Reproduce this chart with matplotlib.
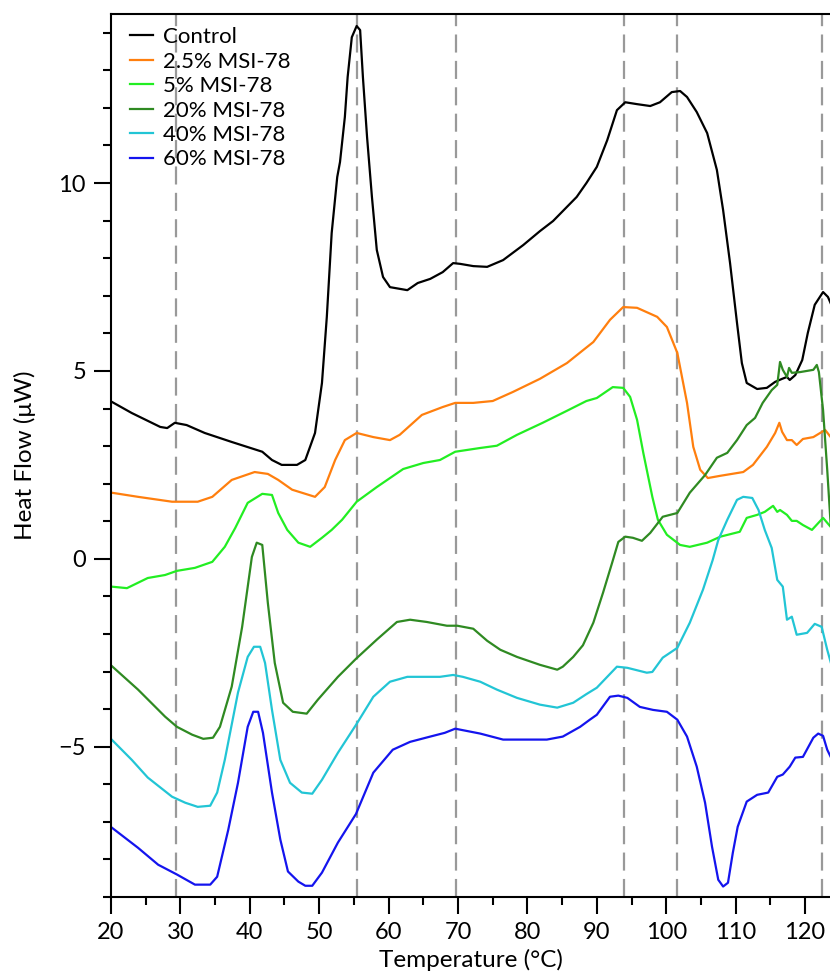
import matplotlib as mpl
mpl.use('Agg')
from matplotlib import pyplot as plt
from matplotlib.ticker import MultipleLocator

plt.rcParams['font.family'] = ['Lato', 'DejaVu Sans']
plt.rcParams['lines.scale_dashes'] = False

# series labels and colours
labels = ['Control', '2.5% MSI-78', '5% MSI-78', '20% MSI-78', '40% MSI-78', '60% MSI-78']
colors = ['#000000', '#ff7f0e', '#22ee22', '#2f8a22', '#22c5d5', '#1414ee']

# transition temperatures (dashed lines)
marks = [29.4, 55.45, 69.7, 93.9, 101.55, 122.45]

# Control
t_ctrl = [20.1, 23.0, 27.1, 28.1, 29.2, 30.9, 33.5, 37.4, 41.8, 43.2, 44.6, 46.8, 48.0, 49.4, 50.4,
          51.1, 51.8, 52.6, 53.0, 53.7, 54.1, 54.7, 55.4, 55.9, 56.3, 56.9, 57.6, 58.3, 59.2, 60.2,
          62.7, 64.2, 66.0, 67.8, 69.3, 70.3, 72.2, 74.2, 76.5, 79.4, 81.8, 83.7, 87.1, 88.5, 90.0,
          91.5, 92.9, 94.1, 95.8, 97.7, 99.1, 100.8, 102.0, 103.0, 104.4, 105.9, 107.3, 108.2, 109.2,
          110.2, 110.9, 111.6, 113.1, 114.5, 115.7, 116.7, 117.4, 117.8, 118.6, 119.6, 120.4, 121.4,
          122.6, 123.3, 123.7]
q_ctrl = [4.18, 3.88, 3.51, 3.48, 3.62, 3.56, 3.35, 3.11, 2.85, 2.63, 2.50, 2.50, 2.63, 3.35, 4.68,
          6.44, 8.67, 10.16, 10.56, 11.76, 12.82, 13.88, 14.18, 14.07, 12.82, 11.22, 9.63, 8.22, 7.50, 7.23,
          7.15, 7.34, 7.45, 7.63, 7.87, 7.85, 7.79, 7.77, 7.95, 8.35, 8.72, 8.99, 9.63, 10.0, 10.43,
          11.14, 11.94, 12.15, 12.10, 12.05, 12.15, 12.42, 12.45, 12.29, 11.89, 11.33, 10.35, 9.28, 7.87,
          6.28, 5.21, 4.68, 4.52, 4.55, 4.71, 4.79, 4.84, 4.76, 4.89, 5.29, 6.01, 6.76,
          7.10, 6.97, 6.80]

# 2.5% MSI-78
t_25 = [20.1, 23.9, 28.8, 32.5, 34.6, 37.4, 40.7, 42.6, 44.1, 46.1, 49.4, 50.8, 52.3, 53.7, 55.4,
        57.8, 60.2, 61.6, 64.8, 67.8, 69.6, 72.2, 75.0, 77.9, 81.8, 85.7, 88.0, 89.5, 91.9, 93.8,
        95.8, 98.7, 100.1, 101.6, 103.0, 103.9, 104.9, 106.0, 107.8, 111.1, 112.5, 114.5, 115.7,
        116.3, 116.7, 117.4, 118.1, 118.8, 119.7, 121.2, 122.9, 123.7]
q_25 = [1.76, 1.65, 1.52, 1.52, 1.65, 2.10, 2.31, 2.26, 2.10, 1.84, 1.65, 1.91, 2.63, 3.16, 3.35,
        3.24, 3.16, 3.30, 3.83, 4.04, 4.15, 4.15, 4.20, 4.44, 4.79, 5.21, 5.55, 5.77, 6.36, 6.70,
        6.68, 6.44, 6.17, 5.48, 4.15, 2.98, 2.37, 2.15, 2.21, 2.31, 2.50, 2.98, 3.35,
        3.62, 3.38, 3.16, 3.16, 3.03, 3.19, 3.24, 3.43, 3.24]

# 5% MSI-78
t_5 = [20.1, 22.3, 25.3, 27.8, 29.5, 32.1, 34.6, 36.4, 37.9, 39.7, 41.8, 43.2, 44.1, 45.4, 47.0,
       48.7, 50.4, 51.8, 53.3, 55.4, 58.3, 62.1, 65.0, 67.4, 69.6, 73.2, 75.6, 78.5, 82.2, 85.7,
       88.5, 90.0, 92.3, 93.8, 94.8, 95.8, 96.7, 98.0, 98.8, 100.1, 102.0, 103.4, 105.9, 107.8,
       110.6, 111.6, 113.1, 114.2, 115.4, 116.0, 116.4, 117.4, 118.1, 118.8, 119.7, 121.0, 122.6, 123.7]
q_5 = [-0.74, -0.78, -0.51, -0.43, -0.32, -0.24, -0.08, 0.32, 0.82, 1.49, 1.73, 1.70, 1.22, 0.77, 0.43,
       0.32, 0.56, 0.77, 1.04, 1.52, 1.91, 2.39, 2.55, 2.63, 2.85, 2.95, 3.01, 3.30, 3.62, 3.94,
       4.20, 4.28, 4.57, 4.55, 4.31, 3.70, 2.82, 1.65, 1.04, 0.64, 0.37, 0.32, 0.43, 0.59,
       0.72, 1.09, 1.17, 1.25, 1.41, 1.25, 1.30, 1.17, 1.01, 1.01, 0.90, 0.77, 1.09, 0.85]

# 20% MSI-78
t_20 = [20.1, 23.9, 27.8, 29.5, 31.7, 33.3, 34.7, 35.7, 37.4, 38.9, 40.3, 41.0, 41.8, 42.6, 43.6,
        44.8, 46.2, 48.2, 49.8, 52.7, 55.3, 58.3, 61.2, 63.1, 65.5, 68.4, 69.9, 72.2, 74.2, 76.1,
        78.5, 81.8, 84.3, 85.1, 86.6, 88.0, 89.5, 90.9, 92.2, 93.1, 94.1, 95.2, 96.5, 97.7, 99.5,
        101.6, 103.4, 105.6, 107.3, 108.8, 110.2, 111.6, 112.8, 113.9, 115.2, 116.0, 116.4, 116.8,
        117.4, 117.7, 118.1, 119.3, 121.2, 121.7, 122.0, 122.6, 123.2, 123.7]
q_20 = [-2.85, -3.48, -4.20, -4.47, -4.68, -4.79, -4.76, -4.47, -3.40, -1.81, 0.05, 0.43, 0.37, -1.17, -2.77,
        -3.83, -4.07, -4.12, -3.75, -3.14, -2.66, -2.15, -1.68, -1.62, -1.68, -1.78, -1.78, -1.86, -2.18, -2.42,
        -2.61, -2.82, -2.95, -2.87, -2.61, -2.30, -1.70, -0.90, -0.11, 0.45, 0.59, 0.56, 0.48, 0.69, 1.12,
        1.22, 1.76, 2.23, 2.69, 2.82, 3.16, 3.56, 3.75, 4.15, 4.49, 4.63, 5.24, 5.03,
        4.84, 5.08, 4.95, 4.97, 5.03, 5.16, 4.97, 3.96, 2.37, 0.90]

# 40% MSI-78
t_40 = [20.1, 23.0, 25.3, 28.8, 30.7, 32.5, 34.3, 35.3, 36.4, 38.3, 39.7, 40.6, 41.5, 42.2, 43.2,
        44.4, 45.8, 47.5, 49.0, 50.4, 52.7, 55.3, 57.8, 60.2, 62.7, 67.4, 69.3, 70.7, 73.2, 75.6,
        78.5, 81.8, 84.3, 86.6, 88.5, 90.0, 91.5, 92.9, 94.4, 97.2, 98.0, 99.5, 101.6, 103.4, 105.3,
        106.7, 107.5, 108.8, 110.2, 111.1, 112.4, 113.3, 114.2, 115.2, 116.0, 116.8, 117.4, 118.1,
        118.8, 120.3, 121.4, 122.4, 123.2, 123.7]
q_40 = [-4.81, -5.35, -5.82, -6.33, -6.49, -6.60, -6.57, -6.22, -5.35, -3.56, -2.61, -2.34, -2.34, -2.77, -4.02,
        -5.35, -5.96, -6.22, -6.25, -5.88, -5.16, -4.42, -3.67, -3.27, -3.14, -3.14, -3.09, -3.14, -3.27, -3.48,
        -3.70, -3.88, -3.96, -3.83, -3.60, -3.43, -3.14, -2.87, -2.90, -3.03, -3.01, -2.63, -2.37, -1.70, -0.82,
        -0.03, 0.50, 1.04, 1.57, 1.65, 1.62, 1.30, 0.77, 0.29, -0.56, -0.74, -1.62, -1.54,
        -2.02, -1.97, -1.73, -1.81, -2.42, -2.75]

# 60% MSI-78
t_60 = [20.1, 23.9, 26.8, 29.5, 32.1, 34.3, 35.3, 36.9, 38.3, 39.7, 40.5, 41.2, 41.9, 43.2, 44.4,
        45.5, 47.0, 48.0, 49.0, 50.4, 52.7, 55.3, 57.8, 60.6, 63.1, 66.0, 68.1, 69.6, 73.2, 76.5,
        79.9, 82.8, 85.1, 87.6, 89.0, 90.0, 91.9, 93.1, 94.4, 96.2, 98.1, 100.1, 101.6, 103.0, 104.4,
        105.6, 106.6, 107.5, 108.2, 108.9, 109.6, 110.3, 111.6, 113.1, 114.7, 116.0, 116.8, 117.8,
        118.6, 119.7, 121.2, 121.9, 122.6, 123.2, 123.7]
q_60 = [-7.15, -7.69, -8.14, -8.40, -8.67, -8.67, -8.46, -7.21, -5.96, -4.47, -4.07, -4.07, -4.63, -6.22, -7.47,
        -8.32, -8.59, -8.70, -8.70, -8.35, -7.55, -6.79, -5.69, -5.08, -4.87, -4.73, -4.63, -4.52, -4.65, -4.81,
        -4.81, -4.81, -4.73, -4.47, -4.28, -4.15, -3.67, -3.64, -3.70, -3.94, -4.02, -4.07, -4.28, -4.73, -5.53,
        -6.49, -7.66, -8.54, -8.72, -8.62, -7.82, -7.13, -6.46, -6.28, -6.22, -5.80, -5.74, -5.53,
        -5.29, -5.27, -4.76, -4.65, -4.71, -5.08, -5.27]

series_t = [t_ctrl, t_25, t_5, t_20, t_40, t_60]
series_q = [q_ctrl, q_25, q_5, q_20, q_40, q_60]

fig = plt.figure(figsize=(8.3, 9.76), dpi=100)
ax = fig.add_axes([0.1337, 0.0809, 0.8663, 0.9048])

for xm in marks:
    ax.axvline(xm, color='#999999', lw=1.6, dashes=(13, 6), zorder=1)

for t, q, c, lab in zip(series_t, series_q, colors, labels):
    ax.plot(t, q, color=c, lw=1.6, label=lab, solid_joinstyle='round', zorder=2)

ax.set_xlim(20, 123.6)
ax.set_ylim(-9, 14.5)
ax.xaxis.set_major_locator(MultipleLocator(10))
ax.xaxis.set_minor_locator(MultipleLocator(5))
ax.yaxis.set_major_locator(MultipleLocator(5))
ax.yaxis.set_minor_locator(MultipleLocator(1))
ax.tick_params(which='major', direction='out', length=12, width=1.5, labelsize=17, pad=6)
ax.tick_params(which='minor', direction='out', length=6, width=1.5)
for s in ['left', 'bottom', 'top']:
    ax.spines[s].set_linewidth(1.5)
ax.spines['right'].set_visible(False)
ax.tick_params(top=False, right=False)

ax.set_xlabel('Temperature (°C)', fontsize=17.5, labelpad=4)
ax.set_ylabel('Heat Flow (μW)', fontsize=17.5, labelpad=16)

ax.legend(loc='upper left', frameon=False, fontsize=16, handlelength=1.05,
          handletextpad=0.45, labelspacing=0.2, borderpad=0, borderaxespad=0,
          bbox_to_anchor=(0.026, 0.985))

fig.savefig('out.png', dpi=100)
